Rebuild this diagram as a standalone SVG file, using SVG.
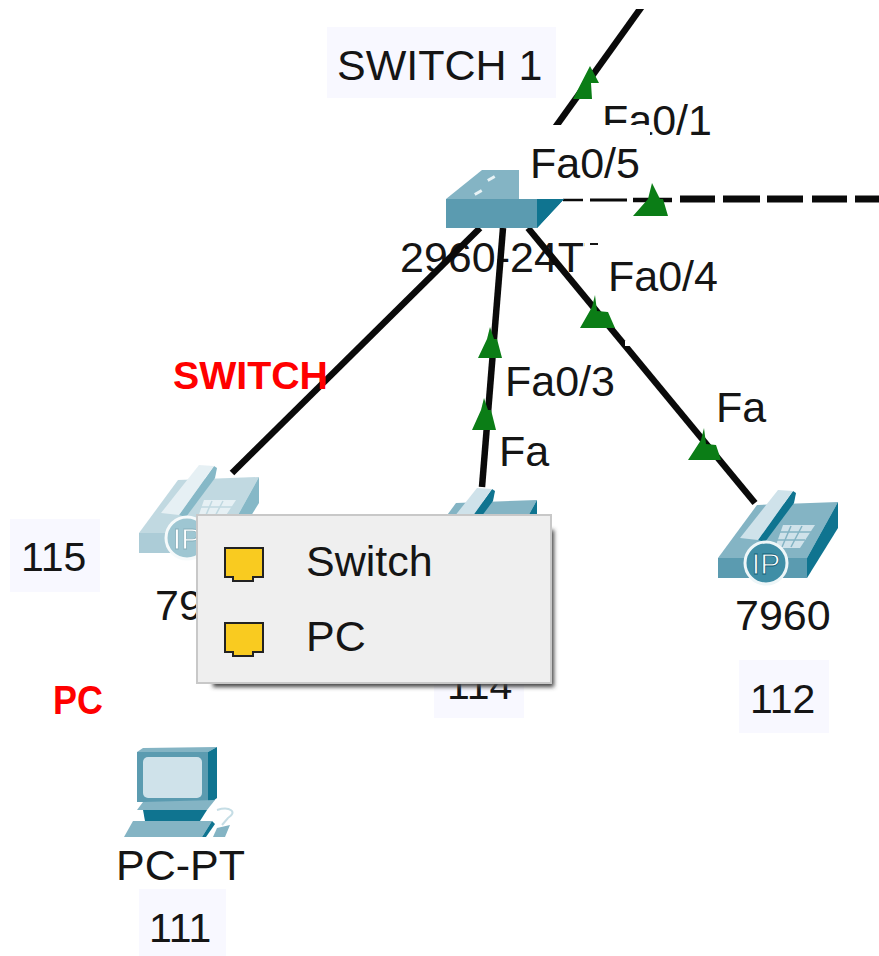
<svg xmlns="http://www.w3.org/2000/svg" xmlns:xlink="http://www.w3.org/1999/xlink" width="879" height="956" viewBox="0 0 879 956">
<style>
text{font-family:"Liberation Sans",Arial,sans-serif;font-size:43px;fill:#151515}
.num{font-size:41px}
.lbl{fill:#f8f8ff}
.cable{stroke:#0a0a0a;stroke-width:6.5;fill:none}
.arrow{fill:#0b7d16}
.red{fill:#ff0000;font-weight:bold}
.front{fill:#5b9bb0}.top{fill:#84b4c4}.side{fill:#0f7490}.pale{fill:#cfe2ea}
.port{fill:#f9cb20;stroke:#222;stroke-width:2}
</style>
<defs>
<clipPath id="c1"><rect x="500" y="9" width="200" height="116"/></clipPath>
<clipPath id="c2"><rect x="380" y="230" width="205" height="60"/><rect x="590" y="238" width="8" height="7"/></clipPath>
<filter id="blur" x="-10%" y="-10%" width="120%" height="120%"><feGaussianBlur stdDeviation="2"/></filter>
<g id="phone">
<polygon class="top" points="757,505 838,502 807,558 718,558"/>
<polygon class="front" points="718,558 807,558 807,578 718,578"/>
<polygon class="side" points="838,502 838,528 807,578 807,558"/>
<polygon class="pale" points="783,525 815,525 800,548 775,548"/>
<path d="M780 532H811M776 540H805M791 526L782 547M802 526L791 547" stroke="#84b4c4" stroke-width="1.5" fill="none"/>
<polygon class="side" points="793,491 796,493 794,503 765,542 758,540"/>
<polygon class="pale" points="778,490 793,491 758,540 740,538"/>
<circle cx="766" cy="563" r="21" fill="#3f8ea6" stroke="#eef6f8" stroke-width="3"/>
<text x="766" y="574" text-anchor="middle" style="font-size:30px;fill:#fff;stroke:#0f5f76;stroke-width:.8">IP</text>
</g>
</defs>
<rect width="879" height="956" fill="#fff"/>

<g id="label-switch1">
<rect class="lbl" x="327" y="27" width="229" height="71"/>
<text x="337" y="80">SWITCH 1</text>
</g>

<g id="label-fa01"><text x="602" y="135">Fa0/1</text></g>

<g id="label-model-text"><text x="400" y="272" clip-path="url(#c2)">2960-24TT</text></g>

<g id="connectors">
<line class="cable" x1="648" y1="-2" x2="549" y2="136" clip-path="url(#c1)"/>
<line class="cable" x1="480" y1="228" x2="232" y2="473"/>
<line class="cable" x1="503" y1="228" x2="482" y2="487"/>
<line class="cable" x1="528" y1="228" x2="755" y2="503"/>
<rect x="625" y="341" width="5" height="5" fill="#fff"/>
<g stroke="#0a0a0a">
<line x1="563" y1="200" x2="583" y2="200" stroke-width="2.5"/>
<line x1="590" y1="200" x2="627" y2="200" stroke-width="3"/>
<line x1="633" y1="200" x2="672" y2="200" stroke-width="4.5"/>
<line x1="680" y1="199" x2="715" y2="199" stroke-width="7"/>
<line x1="723" y1="199" x2="760" y2="199" stroke-width="7"/>
<line x1="767" y1="199" x2="803" y2="199" stroke-width="7"/>
<line x1="812" y1="199" x2="847" y2="199" stroke-width="7"/>
<line x1="855" y1="199" x2="879" y2="199" stroke-width="7"/>
</g>
<polygon class="arrow" points="590,66 599,83 591,83 592,99 573,99"/>
<polygon class="arrow" points="595,295 597,311 608,312 615,328 580,328 592,307"/>
<polygon class="arrow" points="490,327 494,339 497,339 502,358 478,358 487,339"/>
<polygon class="arrow" points="484,398 488,410 491,410 496,430 472,430 481,410"/>
<polygon class="arrow" points="704,428 706,444 716,445 721,460 688,460 701,440"/>
</g>

<g id="switch">
<polygon class="top" points="446,199 482,170 519,170 519,199"/>
<rect class="front" x="446" y="199" width="91" height="29"/>
<polygon class="side" points="537,199 564,199 537,228"/>
<rect x="487" y="177" width="8" height="3" fill="#e8f3f6" transform="rotate(-30 491 178)"/>
<rect x="474" y="191" width="8" height="3" fill="#e8f3f6" transform="rotate(-30 478 192)"/>
</g>

<g id="label-fa05">
<rect x="519" y="125" width="131" height="72" fill="#fff"/>
<polygon class="side" points="537,199 564,199 537,228"/>
<polygon class="arrow" points="652,183 660,199 663,199 668,216 633,216 648,199"/>
<text x="530" y="178">Fa0/5</text>
</g>
<g id="label-fa04"><text x="608" y="291">Fa0/4</text></g>
<g id="label-fa03"><text x="505" y="396">Fa0/3</text></g>
<g id="label-fa-a"><text x="499" y="466">Fa</text></g>
<g id="label-fa-b"><text x="716" y="422">Fa</text></g>

<g id="label-switch-red"><text class="red" x="173" y="389" style="font-size:39px" textLength="155" lengthAdjust="spacingAndGlyphs">SWITCH</text></g>
<g id="label-pc-red"><text class="red" x="53" y="714" style="font-size:40px" textLength="50" lengthAdjust="spacingAndGlyphs">PC</text></g>

<g id="phone-115">
<use xlink:href="#phone" href="#phone" transform="translate(-579 -25)" opacity=".5"/>
<text x="155" y="620">7960</text>
<rect class="lbl" x="10" y="519" width="90" height="73"/>
<text class="num" x="21" y="571">115</text>
</g>

<g id="phone-114">
<use xlink:href="#phone" href="#phone" transform="translate(-301 -2)"/>
<rect class="lbl" x="434" y="660" width="90" height="58"/>
<text class="num" x="447" y="699">114</text>
</g>

<g id="phone-112">
<use xlink:href="#phone" href="#phone"/>
<text x="735" y="630">7960</text>
<rect class="lbl" x="739" y="660" width="90" height="73"/>
<text class="num" x="750" y="713">112</text>
</g>

<g id="pc-111">
<polygon class="top" points="137,752 143,748 217,747 208,752"/>
<rect class="front" x="137" y="752" width="71" height="50"/>
<polygon class="side" points="208,752 217,747 217,798 208,805"/>
<rect class="pale" x="143" y="757" width="59" height="41" rx="5"/>
<polygon class="top" points="143,802 215,800 207,810 137,810"/>
<polygon class="side" points="143,810 207,810 200,821 145,821"/>
<polygon class="top" points="133,821 212,821 202,837 124,837"/>
<polygon class="side" points="212,821 215,824 206,837 202,837"/>
<polygon class="top" points="217,828 230,825 225,837 213,837"/>
<path d="M217 810 C230 806 238 812 228 818 L222 825" fill="none" stroke="#c5dde5" stroke-width="2"/>
<text x="116" y="880">PC-PT</text>
<rect class="lbl" x="139" y="889" width="87" height="67"/>
<text class="num" x="149" y="942">111</text>
</g>

<g id="popup">
<rect x="213" y="530" width="341" height="157" fill="#444" filter="url(#blur)"/>
<rect x="197" y="515" width="354" height="168" fill="#efefef" stroke="#c8c8c8" stroke-width="2"/>
<path class="port" d="M225 548H263V577H253V581H233V577H225Z"/>
<path class="port" d="M225 623H263V652H253V656H233V652H225Z"/>
<text x="306" y="576">Switch</text>
<text x="306" y="651">PC</text>
</g>
</svg>
